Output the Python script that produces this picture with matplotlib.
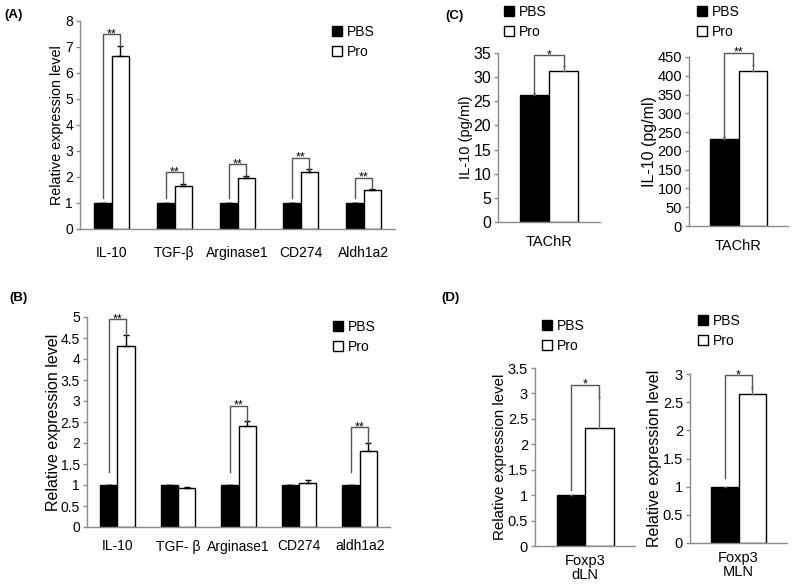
import matplotlib
matplotlib.use('Agg')
import matplotlib.pyplot as plt
from matplotlib.patches import Patch
from matplotlib.ticker import MultipleLocator, FuncFormatter
import numpy as np

plt.rcParams['font.family'] = ['Liberation Sans', 'DejaVu Sans']

# ---------------- data ----------------
groups = ['PBS', 'Pro']

A_cats = ['IL-10', 'TGF-β', 'Arginase1', 'CD274', 'Aldh1a2']
A_pbs = [1, 1, 1, 1, 1]
A_pbs_err = [0, 0, 0, 0, 0]
A_pro = [6.65, 1.67, 1.97, 2.19, 1.51]
A_pro_err = [0.40, 0.06, 0.07, 0.10, 0.02]
A_sig = ['**', '**', '**', '**', '**']

B_cats = ['IL-10', 'TGF- β', 'Arginase1', 'CD274', 'aldh1a2']
B_pbs = [1, 1, 1, 1, 1]
B_pbs_err = [0, 0, 0, 0, 0]
B_pro = [4.32, 0.93, 2.40, 1.05, 1.82]
B_pro_err = [0.26, 0.03, 0.12, 0.06, 0.19]
B_sig = ['**', '', '**', '', '**']

C1_cats = ['TAChR']
C1_pbs = [26.3]
C1_pbs_err = [0.5]
C1_pro = [31.2]
C1_pro_err = [1.2]
C1_sig = ['*']

C2_cats = ['TAChR']
C2_pbs = [232]
C2_pbs_err = [4]
C2_pro = [412]
C2_pro_err = [16]
C2_sig = ['**']

D1_cats = ['Foxp3\ndLN']
D1_pbs = [1.0]
D1_pbs_err = [0]
D1_pro = [2.33]
D1_pro_err = [0.60]
D1_sig = ['*']

D2_cats = ['Foxp3\nMLN']
D2_pbs = [1.0]
D2_pbs_err = [0]
D2_pro = [2.64]
D2_pro_err = [0.12]
D2_sig = ['*']

# ---------------- figure ----------------
W, H = 792, 584
fig = plt.figure(figsize=(W / 100, H / 100), dpi=100)
fig.patch.set_facecolor('white')

SPINE = '#8a8a8a'


def add_ax(x0, y0, x1, y1):
    return fig.add_axes([x0 / W, 1 - y1 / H, (x1 - x0) / W, (y1 - y0) / H])


def fmt(v, pos):
    return '%g' % v


def panel(ax, cats, pbs, pbs_err, pro, pro_err, sig, ymax, ystep, ylabel,
          tick_fs, ylab_fs, cat_fs, off_frac, gap_frac, capsize, ecolor,
          xpad, ylabelpad, linespacing=1.2):
    n = len(cats)
    x = np.arange(n)
    w = 0.285
    pbs = np.asarray(pbs, float)
    pro = np.asarray(pro, float)
    pbs_err = np.asarray(pbs_err, float)
    pro_err = np.asarray(pro_err, float)
    ekw = dict(ecolor=ecolor, elinewidth=1, capsize=capsize, capthick=1)
    ax.bar(x - w / 2, pbs, w, color='black', edgecolor='black', linewidth=1,
           yerr=[np.zeros(n), pbs_err], error_kw=ekw, zorder=2)
    ax.bar(x + w / 2, pro, w, color='white', edgecolor='black', linewidth=1,
           yerr=[np.zeros(n), pro_err], error_kw=ekw, zorder=2)
    ax.set_xlim(-0.5, n - 0.5)
    ax.set_ylim(0, ymax)
    for s in ['top', 'right']:
        ax.spines[s].set_visible(False)
    for s in ['left', 'bottom']:
        ax.spines[s].set_color(SPINE)
        ax.spines[s].set_linewidth(1)
    ax.yaxis.set_major_locator(MultipleLocator(ystep))
    ax.yaxis.set_major_formatter(FuncFormatter(fmt))
    ax.tick_params(axis='y', direction='out', length=3, width=1, color=SPINE,
                   labelsize=tick_fs, pad=2)
    ax.set_xticks(x)
    ax.set_xticklabels(cats, fontsize=cat_fs, linespacing=linespacing)
    ax.tick_params(axis='x', length=0, pad=xpad)
    ax.set_ylabel(ylabel, fontsize=ylab_fs, labelpad=ylabelpad)
    off = off_frac * ymax
    gap = gap_frac * ymax
    for i in range(n):
        if not sig[i]:
            continue
        xl = x[i] - w / 2
        xr = x[i] + w / 2
        yl = pbs[i] + pbs_err[i] + gap
        yr = pro[i] + pro_err[i]
        yt = yr + off
        ax.plot([xl, xl, xr, xr], [yl, yt, yt, yr], color='#555555', lw=1,
                clip_on=False, zorder=3)
        ax.text(x[i], yt, sig[i], ha='center', va='center', fontsize=9)


def legend_at(ax, px, py, fs=10):
    handles = [Patch(facecolor='black', edgecolor='black', label=groups[0]),
               Patch(facecolor='white', edgecolor='black', label=groups[1])]
    ax.legend(handles=handles, loc='upper left',
              bbox_to_anchor=(px / W, 1 - py / H),
              bbox_transform=fig.transFigure, frameon=False, fontsize=fs,
              handlelength=0.75, handleheight=0.75, handletextpad=0.3,
              labelspacing=0.45, borderpad=0, borderaxespad=0)


# Panel A
axA = add_ax(80, 21, 395, 229)
panel(axA, A_cats, A_pbs, A_pbs_err, A_pro, A_pro_err, A_sig, 8, 1,
      'Relative expression level', 10, 10.4, 10, 0.056, 0.024, 2.5, 'black',
      12, 1)
legend_at(axA, 332, 25)

# Panel B
axB = add_ax(87, 317, 390, 527)
panel(axB, B_cats, B_pbs, B_pbs_err, B_pro, B_pro_err, B_sig, 5, 0.5,
      'Relative expression level', 10, 11.5, 10, 0.074, 0.06, 2.5, 'black',
      9, 0)
legend_at(axB, 333, 320)

# Panel C
axC1 = add_ax(498, 53, 600, 222)
panel(axC1, C1_cats, C1_pbs, C1_pbs_err, C1_pro, C1_pro_err, C1_sig, 35, 5,
      'IL-10 (pg/ml)', 11.5, 10.5, 10.5, 0.06, 0.0, 1.0, '#666666', 9, 0.5)
legend_at(axC1, 504, 5)

axC2 = add_ax(689, 57, 788, 226)
panel(axC2, C2_cats, C2_pbs, C2_pbs_err, C2_pro, C2_pro_err, C2_sig, 450, 50,
      'IL-10 (pg/ml)', 10.5, 11.5, 10.5, 0.075, 0.0, 1.0, '#666666', 9, 0.5)
legend_at(axC2, 697, 5)

# Panel D
axD1 = add_ax(535, 368, 635, 546)
panel(axD1, D1_cats, D1_pbs, D1_pbs_err, D1_pro, D1_pro_err, D1_sig, 3.5, 0.5,
      'Relative expression level', 10.5, 10.8, 10.5, 0.069, 0.03, 1.0,
      '#666666', 6, 0.5, linespacing=1.0)
legend_at(axD1, 542, 319)

axD2 = add_ax(690, 374, 787, 543)
panel(axD2, D2_cats, D2_pbs, D2_pbs_err, D2_pro, D2_pro_err, D2_sig, 3, 0.5,
      'Relative expression level', 10.5, 11.5, 10.5, 0.073, 0.05, 1.0,
      '#666666', 6, 0.5, linespacing=1.0)
legend_at(axD2, 698, 314)

# panel letters
for lab, px, py in [('(A)', 14, 15), ('(B)', 19, 298), ('(C)', 455, 16),
                    ('(D)', 450, 298)]:
    fig.text(px / W, 1 - py / H, lab, fontsize=9.5, fontweight='bold',
             ha='center', va='center')

fig.savefig('out.png', dpi=100, facecolor='white')
